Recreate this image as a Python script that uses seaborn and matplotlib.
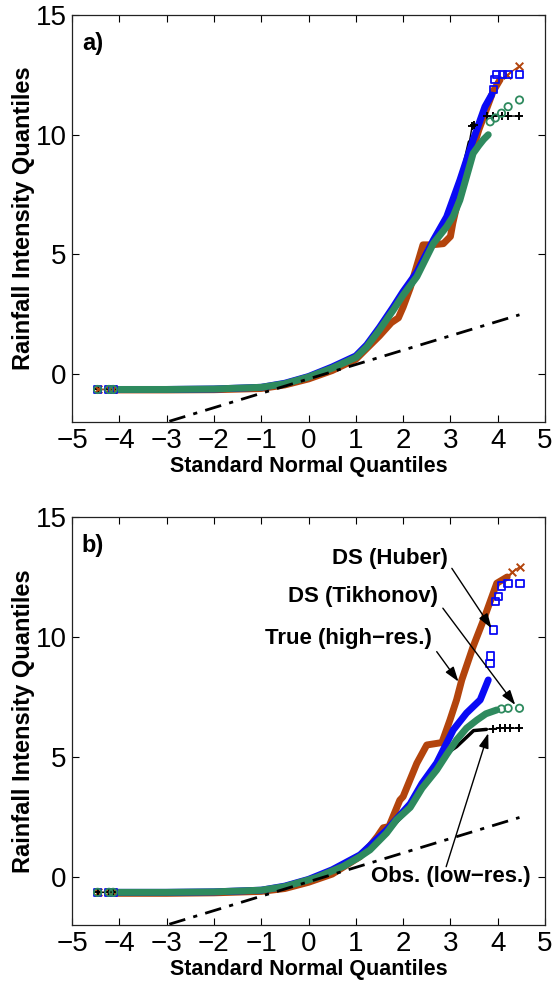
import matplotlib
matplotlib.use("Agg")
import matplotlib.pyplot as plt
import seaborn as sns

# ---- data (x = standard normal quantile, y = rainfall quantile) ----
# first isolated points, shared by every series
head_x = [-4.46, -4.22, -4.13]
head_y = [-0.64, -0.64, -0.64]

# panel a)
a_true_x = [-4.06, -3.0, -2.0, -1.0, -0.5, 0.0, 0.5, 1.0, 1.5, 1.75, 1.9, 2.0, 2.15, 2.3, 2.42,
            2.6, 2.85, 3.0, 3.05, 3.2, 3.4, 3.6, 3.75, 3.9, 4.05]
a_true_y = [-0.66, -0.66, -0.65, -0.6, -0.45, -0.2, 0.15, 0.62, 1.6, 2.15, 2.35, 2.8, 3.6, 4.6, 5.4,
            5.4, 5.45, 5.75, 6.3, 7.6, 8.9, 10.2, 11.0, 11.8, 12.3]
a_true_tail_x = [4.2, 4.46]
a_true_tail_y = [12.5, 12.87]

a_huber_x = [-4.06, -3.0, -2.0, -1.0, -0.5, 0.0, 0.5, 1.0, 1.23, 1.5, 1.79, 2.0, 2.29, 2.64, 2.92,
             3.2, 3.48, 3.73, 3.87]
a_huber_y = [-0.64, -0.64, -0.62, -0.55, -0.38, -0.1, 0.3, 0.76, 1.22, 1.95, 2.8, 3.45, 4.25, 5.6, 6.57,
             8.1, 9.78, 11.17, 11.66]
a_huber_tail_x = [3.91, 3.94, 3.98, 4.1, 4.22, 4.46]
a_huber_tail_y = [11.9, 12.3, 12.52, 12.52, 12.52, 12.52]

a_tikh_x = [-4.06, -3.0, -2.0, -1.0, -0.5, 0.0, 0.5, 1.0, 1.23, 1.5, 1.79, 2.0, 2.29, 2.64, 2.92,
            3.06, 3.2, 3.38, 3.48, 3.6, 3.7, 3.8]
a_tikh_y = [-0.64, -0.64, -0.62, -0.55, -0.4, -0.12, 0.25, 0.7, 1.14, 1.85, 2.67, 3.3, 4.07, 5.46, 6.16,
            6.6, 7.27, 8.52, 9.22, 9.55, 9.8, 10.0]
a_tikh_tail_x = [3.84, 3.95, 4.08, 4.22, 4.46]
a_tikh_tail_y = [10.54, 10.7, 10.9, 11.17, 11.45]

a_obs_x = [-4.06, -3.0, -2.0, -1.0, -0.5, 0.0, 0.5, 1.0, 1.5, 2.0, 2.5, 2.9, 3.2, 3.4]
a_obs_y = [-0.64, -0.64, -0.62, -0.55, -0.4, -0.12, 0.25, 0.7, 1.8, 3.3, 4.9, 6.3, 8.0, 9.7]
a_obs_tail_x = [3.46, 3.5, 3.77, 3.9, 4.08, 4.22, 4.46]
a_obs_tail_y = [10.36, 10.4, 10.78, 10.78, 10.78, 10.78, 10.78]

# panel b)
b_true_x = [-4.06, -3.0, -2.0, -1.0, -0.5, 0.0, 0.5, 1.09, 1.3, 1.46, 1.58, 1.7, 1.93, 2.0, 2.29,
            2.5, 2.82, 2.99, 3.13, 3.24, 3.48, 3.7, 3.98, 4.2]
b_true_y = [-0.68, -0.68, -0.66, -0.6, -0.48, -0.22, 0.12, 0.85, 1.3, 1.7, 2.05, 2.1, 3.2, 3.35, 4.74,
            5.5, 5.6, 6.54, 7.38, 8.21, 9.6, 10.71, 12.24, 12.5]
b_true_tail_x = [4.3, 4.47]
b_true_tail_y = [12.7, 12.93]

b_huber_x = [-4.06, -3.0, -2.0, -1.0, -0.5, 0.0, 0.5, 1.09, 1.65, 2.15, 2.4, 2.71, 3.06, 3.34, 3.63, 3.8]
b_huber_y = [-0.64, -0.64, -0.62, -0.55, -0.38, -0.1, 0.3, 0.92, 1.95, 3.05, 3.9, 4.75, 6.13, 6.83, 7.38, 8.21]
b_huber_tail_x = [3.84, 3.85, 3.91, 3.95, 4.01, 4.08, 4.22, 4.47]
b_huber_tail_y = [8.9, 9.21, 10.29, 11.47, 11.68, 12.13, 12.24, 12.24]

b_tikh_x = [-4.06, -3.0, -2.0, -1.0, -0.5, 0.0, 0.17, 0.5, 0.74, 1.09, 1.3, 1.65, 1.86, 2.15, 2.4,
            2.71, 2.92, 3.13, 3.34, 3.56, 3.75, 3.98]
b_tikh_y = [-0.64, -0.64, -0.62, -0.55, -0.4, -0.12, -0.02, 0.25, 0.45, 0.85, 1.13, 1.83, 2.38, 2.9, 3.7,
            4.46, 5.1, 5.71, 6.2, 6.54, 6.8, 6.96]
b_tikh_tail_x = [4.08, 4.22, 4.46]
b_tikh_tail_y = [7.0, 7.03, 7.03]

b_obs_x = [-4.06, -3.0, -2.0, -1.0, -0.5, 0.0, 0.5, 1.09, 1.65, 2.15, 2.5, 2.71, 2.92, 3.13, 3.34, 3.49, 3.76]
b_obs_y = [-0.64, -0.64, -0.62, -0.55, -0.4, -0.12, 0.25, 0.85, 1.83, 2.9, 3.95, 4.5, 5.15, 5.43, 5.82, 6.1, 6.15]
b_obs_tail_x = [3.9, 4.05, 4.15, 4.25, 4.46]
b_obs_tail_y = [6.18, 6.2, 6.2, 6.2, 6.2]

# normal reference line (quartile fit)
ref_x = [-4.46, 4.46]
ref_y = [-2.88, 2.48]

x_ticks = [-5, -4, -3, -2, -1, 0, 1, 2, 3, 4, 5]
y_ticks = [0, 5, 10, 15]

# annotation labels for panel b
ann_labels = ["DS (Huber)", "DS (Tikhonov)", "True (high\u2212res.)", "Obs. (low\u2212res.)"]
ann_text_x = [1.72, 1.15, 0.84, 3.01]
ann_text_y = [13.29, 11.67, 9.92, 0.0]
ann_from_x = [3.03, 2.84, 2.71, 2.91]
ann_from_y = [12.86, 11.2, 9.39, 0.43]
ann_to_x = [3.87, 4.37, 3.17, 3.8]
ann_to_y = [10.36, 7.17, 8.14, 5.99]

c_true = "#B3440C"
c_huber = "#0A0AF5"
c_tikh = "#2E8A5E"
c_obs = "black"

sns.set_style("ticks")
plt.rcParams["font.family"] = ["Liberation Sans", "DejaVu Sans"]
plt.rcParams["text.color"] = "black"
plt.rcParams["axes.labelcolor"] = "black"
plt.rcParams["xtick.color"] = "black"
plt.rcParams["ytick.color"] = "black"

fig = plt.figure(figsize=(5.54, 9.81), dpi=100)
ax_a = fig.add_axes([0.130, 0.5698, 0.8538, 0.4149])
ax_b = fig.add_axes([0.130, 0.0571, 0.8538, 0.4159])


def draw_series(ax, bx, by, tx, ty, color, marker, body_lw, thin_line):
    if thin_line:
        sns.lineplot(x=head_x + bx + tx, y=head_y + by + ty, ax=ax, color=color,
                     linewidth=1.0, sort=False, estimator=None, legend=False)
    sns.lineplot(x=bx, y=by, ax=ax, color=color, linewidth=body_lw,
                 sort=False, estimator=None, legend=False)
    mx = head_x + tx
    my = head_y + ty
    if marker in ("s", "o"):
        sns.scatterplot(x=mx, y=my, ax=ax, marker=marker, s=28, color=color,
                        facecolor="none", edgecolor=color, linewidth=1.3, legend=False, zorder=3)
    else:
        sns.scatterplot(x=mx, y=my, ax=ax, marker=marker, s=30, color=color,
                        linewidth=1.4, legend=False, zorder=3)


def style_axes(ax, letter):
    sns.lineplot(x=ref_x, y=ref_y, ax=ax, color="black", linewidth=2.0,
                 linestyle=(0, (6, 3, 1.5, 3)), sort=False, estimator=None, legend=False)
    ax.set_xlim(-5, 5)
    ax.set_ylim(-2, 15)
    ax.set_xticks(x_ticks)
    ax.set_yticks(y_ticks)
    ax.tick_params(direction="in", length=5, width=0.8, top=True, right=True,
                   labelsize=20, pad=4)
    for sp in ax.spines.values():
        sp.set_visible(True)
        sp.set_linewidth(0.9)
        sp.set_color("#222222")
    ax.set_xlabel("Standard Normal Quantiles", fontsize=15.5, fontweight="bold")
    ax.set_ylabel("Rainfall Intensity Quantiles", fontsize=17, fontweight="bold")
    ax.xaxis.set_label_coords(0.5, -0.083)
    ax.yaxis.set_label_coords(-0.078, 0.5)
    ax.text(0.021, 0.931, letter, transform=ax.transAxes, fontsize=17,
            fontweight="bold", ha="left", va="center")


# panel a
draw_series(ax_a, a_obs_x, a_obs_y, a_obs_tail_x, a_obs_tail_y, c_obs, "+", 2.5, True)
draw_series(ax_a, a_true_x, a_true_y, a_true_tail_x, a_true_tail_y, c_true, "x", 5.0, True)
draw_series(ax_a, a_huber_x, a_huber_y, a_huber_tail_x, a_huber_tail_y, c_huber, "s", 5.0, False)
draw_series(ax_a, a_tikh_x, a_tikh_y, a_tikh_tail_x, a_tikh_tail_y, c_tikh, "o", 5.0, False)
style_axes(ax_a, "a)")

# panel b
draw_series(ax_b, b_true_x, b_true_y, b_true_tail_x, b_true_tail_y, c_true, "x", 5.0, True)
draw_series(ax_b, b_huber_x, b_huber_y, b_huber_tail_x, b_huber_tail_y, c_huber, "s", 5.0, False)
draw_series(ax_b, b_obs_x, b_obs_y, b_obs_tail_x, b_obs_tail_y, c_obs, "+", 2.5, True)
draw_series(ax_b, b_tikh_x, b_tikh_y, b_tikh_tail_x, b_tikh_tail_y, c_tikh, "o", 5.0, False)
style_axes(ax_b, "b)")

for lab, tx, ty, fx, fy, ex, ey in zip(ann_labels, ann_text_x, ann_text_y,
                                       ann_from_x, ann_from_y, ann_to_x, ann_to_y):
    ax_b.text(tx, ty, lab, fontsize=16, fontweight="bold", ha="center", va="center")
    ax_b.annotate("", xy=(ex, ey), xytext=(fx, fy),
                  arrowprops=dict(arrowstyle="-|>,head_length=0.9,head_width=0.3",
                                  lw=1.0, color="black", shrinkA=0, shrinkB=0))

fig.savefig("out.png", dpi=100)
